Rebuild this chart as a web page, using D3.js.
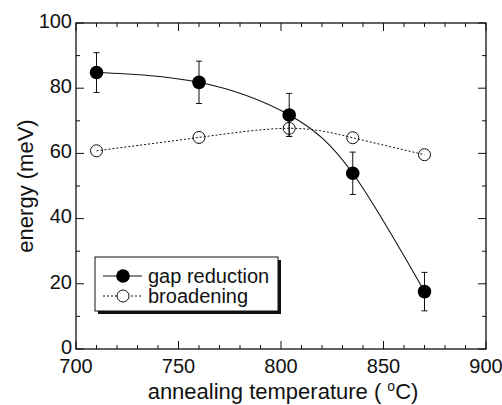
<!DOCTYPE html>
<html>
<head>
<meta charset="utf-8">
<script src="https://cdn.jsdelivr.net/npm/d3@7"></script>
<style>
  body { margin: 0; background: #fff; }
  text { font-family: "Liberation Sans", Arial, sans-serif; fill: #111; }
</style>
</head>
<body>
<div id="viz"></div>
<script>
// data
var temps = [710, 760, 804, 835, 870];
var gapReduction = [84.8, 81.8, 71.8, 53.9, 17.6];
var gapError = [6.1, 6.5, 6.6, 6.5, 5.9];
var broadening = [60.8, 64.9, 67.7, 64.8, 59.6];
var broadError = [0, 0, 2.5, 0, 0];
var xTicks = [700, 750, 800, 850, 900];
var yTicks = [0, 20, 40, 60, 80, 100];

var width = 502, height = 405;
var margin = {top: 23, right: 16, bottom: 56, left: 76};

var svg = d3.select("#viz").append("svg")
  .attr("width", width)
  .attr("height", height);

var x = d3.scaleLinear().domain([700, 900]).range([margin.left, width - margin.right]);
var y = d3.scaleLinear().domain([0, 100]).range([height - margin.bottom, margin.top]);

var x0 = x.range()[0], x1 = x.range()[1], y0 = y.range()[0], y1 = y.range()[1];

// ticks on all four sides, pointing inward
var minorX = d3.range(700, 901, 10), minorY = d3.range(0, 101, 10);
var ticks = svg.append("g").attr("stroke", "#111").attr("stroke-width", 1);
minorX.forEach(function(v) {
  var len = xTicks.indexOf(v) >= 0 ? 8 : 4;
  ticks.append("line").attr("x1", x(v)).attr("x2", x(v)).attr("y1", y0).attr("y2", y0 - len);
  ticks.append("line").attr("x1", x(v)).attr("x2", x(v)).attr("y1", y1).attr("y2", y1 + len);
});
minorY.forEach(function(v) {
  var len = yTicks.indexOf(v) >= 0 ? 8 : 4;
  ticks.append("line").attr("y1", y(v)).attr("y2", y(v)).attr("x1", x0).attr("x2", x0 + len);
  ticks.append("line").attr("y1", y(v)).attr("y2", y(v)).attr("x1", x1).attr("x2", x1 - len);
});

svg.append("rect")
  .attr("x", x0).attr("y", y1)
  .attr("width", x1 - x0).attr("height", y0 - y1)
  .attr("fill", "none").attr("stroke", "#111").attr("stroke-width", 1.3);

// tick labels
svg.append("g").selectAll("text").data(xTicks).enter().append("text")
  .attr("x", function(d) { return x(d); })
  .attr("y", y0 + 24)
  .attr("text-anchor", "middle")
  .style("font-size", "20px")
  .text(function(d) { return d; });

svg.append("g").selectAll("text").data(yTicks).enter().append("text")
  .attr("x", x0 - 4)
  .attr("y", function(d) { return y(d) - 2.5; })
  .attr("dy", "0.36em")
  .attr("text-anchor", "end")
  .style("font-size", "20px")
  .text(function(d) { return d; });

// axis titles
var xt = svg.append("text")
  .attr("x", (x0 + x1) / 2 + 2)
  .attr("y", 399)
  .attr("text-anchor", "middle")
  .style("font-size", "22px");
xt.append("tspan").text("annealing temperature ( ");
xt.append("tspan").attr("dy", -8).style("font-size", "14px").text("o");
xt.append("tspan").attr("dy", 8).text("C)");

svg.append("text")
  .attr("transform", "translate(33," + ((y0 + y1) / 2) + ") rotate(-90)")
  .attr("text-anchor", "middle")
  .style("font-size", "22px")
  .text("energy (meV)");

// curves
var line = d3.line()
  .x(function(d) { return x(d[0]); })
  .y(function(d) { return y(d[1]); })
  .curve(d3.curveNatural);

svg.append("path")
  .datum(d3.zip(temps, broadening))
  .attr("d", line)
  .attr("fill", "none").attr("stroke", "#111").attr("stroke-width", 1)
  .attr("stroke-dasharray", "2,2");

svg.append("path")
  .datum(d3.zip(temps, gapReduction))
  .attr("d", line)
  .attr("fill", "none").attr("stroke", "#111").attr("stroke-width", 1.1);

// error bars
function errorBars(vals, errs) {
  var g = svg.append("g").attr("stroke", "#111").attr("stroke-width", 1);
  temps.forEach(function(t, i) {
    if (!errs[i]) return;
    var cx = x(t);
    g.append("line").attr("x1", cx).attr("x2", cx).attr("y1", y(vals[i] - errs[i])).attr("y2", y(vals[i] + errs[i]));
    [vals[i] - errs[i], vals[i] + errs[i]].forEach(function(v) {
      g.append("line").attr("x1", cx - 3).attr("x2", cx + 3).attr("y1", y(v)).attr("y2", y(v));
    });
  });
}
errorBars(broadening, broadError);
errorBars(gapReduction, gapError);

// markers
svg.append("g").selectAll("circle").data(d3.zip(temps, broadening)).enter().append("circle")
  .attr("cx", function(d) { return x(d[0]); })
  .attr("cy", function(d) { return y(d[1]); })
  .attr("r", 6)
  .attr("fill", "none").attr("stroke", "#111").attr("stroke-width", 1);

svg.append("g").selectAll("circle").data(d3.zip(temps, gapReduction)).enter().append("circle")
  .attr("cx", function(d) { return x(d[0]); })
  .attr("cy", function(d) { return y(d[1]); })
  .attr("r", 6.8)
  .attr("fill", "#000");

// legend with drop shadow
var lg = svg.append("g").attr("transform", "translate(95,257)");
lg.append("rect").attr("x", 3).attr("y", 3).attr("width", 183).attr("height", 54).attr("fill", "#111");
lg.append("rect").attr("width", 183).attr("height", 54).attr("fill", "#fff").attr("stroke", "#111").attr("stroke-width", 1);

lg.append("line").attr("x1", 8).attr("x2", 47).attr("y1", 19).attr("y2", 19).attr("stroke", "#111");
lg.append("circle").attr("cx", 28).attr("cy", 19).attr("r", 6.8).attr("fill", "#000");
lg.append("text").attr("x", 53).attr("y", 19).attr("dy", "0.35em").style("font-size", "20px").text("gap reduction");

lg.append("line").attr("x1", 8).attr("x2", 47).attr("y1", 39).attr("y2", 39).attr("stroke", "#111").attr("stroke-dasharray", "2,2");
lg.append("circle").attr("cx", 28).attr("cy", 39).attr("r", 6).attr("fill", "#fff").attr("stroke", "#111");
lg.append("text").attr("x", 53).attr("y", 39).attr("dy", "0.35em").style("font-size", "20px").text("broadening");
</script>
</body>
</html>
